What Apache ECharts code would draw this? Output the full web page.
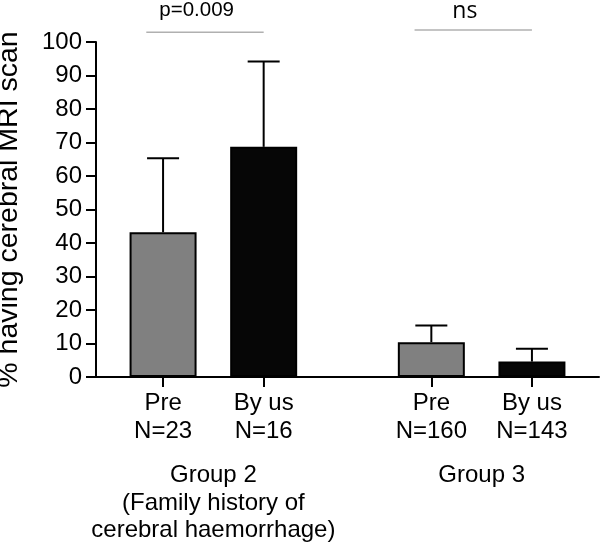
<!DOCTYPE html>
<html><head><meta charset="utf-8">
<script src="https://cdn.jsdelivr.net/npm/echarts@6/dist/echarts.min.js"></script>
<style>html,body{margin:0;padding:0;background:#fff}#c{width:600px;height:547px}</style>
</head><body><div id="c"></div>
<script>
// ---- data ----
const groupLabels = ['Group 2\n(Family history of\ncerebral haemorrhage)', 'Group 3'];
const barNames = ['Pre', 'By us', 'Pre', 'By us'];
const nLabels = ['N=23', 'N=16', 'N=160', 'N=143'];
const preMeans = [43.2, 10.4];
const preSD = [22.1, 5.0];
const byUsMeans = [68.7, 4.6];
const byUsSD = [25.5, 3.8];
const yTicks = [0, 10, 20, 30, 40, 50, 60, 70, 80, 90, 100];
const comparisons = ['p=0.009', 'ns'];

// ---- layout (slot positions on a fine category axis) ----
const NSLOTS = 31;
const barSlots = [4, 10, 20, 26];
const groupSlots = [7, 23];
const bracketSlots = [[3, 10], [19, 26]];
const bracketY = [102.9, 103.6];
const bracketTextSlot = [6.0, 22.0];
const bracketTextY = [109.5, 109.0];

const slots = Array.from({length: NSLOTS}, (_, i) => String(i));
const tickLabelMap = {};
barSlots.forEach((s, i) => tickLabelMap[s] = barNames[i] + '\n' + nLabels[i]);
const groupLabelMap = {};
groupSlots.forEach((s, i) => groupLabelMap[s] = groupLabels[i]);

const preData = slots.map(() => null);
const byUsData = slots.map(() => null);
preMeans.forEach((v, g) => preData[barSlots[g * 2]] = v);
byUsMeans.forEach((v, g) => byUsData[barSlots[g * 2 + 1]] = v);

const errData = [];
preMeans.forEach((v, g) => errData.push([barSlots[g * 2], v, v + preSD[g]]));
byUsMeans.forEach((v, g) => errData.push([barSlots[g * 2 + 1], v, v + byUsSD[g]]));

const bracketData = comparisons.map((t, i) => [bracketSlots[i][0], bracketSlots[i][1], bracketY[i], bracketTextSlot[i], bracketTextY[i], i]);

const FONT = '"Liberation Sans", Arial, sans-serif';
const chart = echarts.init(document.getElementById('c'), null, {renderer: 'canvas'});
chart.setOption({
  animation: false,
  grid: {left: 96, right: 1, top: 42, bottom: 170, containLabel: false, outerBoundsMode: 'none'},
  xAxis: [{
    type: 'category', data: slots, boundaryGap: false,
    axisLine: {lineStyle: {color: '#000', width: 2}},
    axisTick: {length: 10, lineStyle: {color: '#000', width: 2},
      interval: (i) => tickLabelMap[i] !== undefined},
    axisLabel: {interval: (i) => tickLabelMap[i] !== undefined,
      formatter: (v, i) => tickLabelMap[i] || '',
      color: '#000', fontFamily: FONT, fontSize: 24, lineHeight: 28.5, margin: 12},
    splitLine: {show: false}
  }, {
    type: 'category', data: slots, boundaryGap: false, position: 'bottom',
    axisLine: {show: false}, axisTick: {show: false},
    axisLabel: {interval: (i) => groupLabelMap[i] !== undefined,
      formatter: (v, i) => groupLabelMap[i] || '',
      color: '#000', fontFamily: FONT, fontSize: 24, lineHeight: 27.5, margin: 85}
  }],
  yAxis: {
    type: 'value', min: 0, max: 100, interval: 10,
    name: '% having cerebral MRI scan', nameLocation: 'middle', nameGap: 72,
    nameTextStyle: {color: '#000', fontFamily: FONT, fontSize: 28.5},
    axisLine: {show: true, lineStyle: {color: '#000', width: 2}},
    axisTick: {show: true, length: 10, lineStyle: {color: '#000', width: 2}},
    axisLabel: {color: '#000', fontFamily: FONT, fontSize: 24, margin: 14,
      formatter: (v) => yTicks.includes(v) ? String(v) : ''},
    splitLine: {show: false}
  },
  series: [{
    name: 'Pre', type: 'bar', data: preData, barWidth: 67, barGap: '-100%',
    itemStyle: {color: '#808080', borderColor: '#000', borderWidth: 2}
  }, {
    name: 'By us', type: 'bar', data: byUsData, barWidth: 67, barGap: '-100%',
    itemStyle: {color: '#060606', borderColor: '#000', borderWidth: 2}
  }, {
    type: 'custom', data: errData, z: 1,
    renderItem: (params, api) => {
      const base = api.coord([api.value(0), api.value(1)]);
      const top = api.coord([api.value(0), api.value(2)]);
      const st = {stroke: '#000', lineWidth: 2};
      return {type: 'group', children: [
        {type: 'line', shape: {x1: base[0], y1: base[1], x2: top[0], y2: top[1]}, style: st},
        {type: 'line', shape: {x1: top[0] - 16, y1: top[1], x2: top[0] + 16, y2: top[1]}, style: st}
      ]};
    }
  }, {
    type: 'custom', data: bracketData, clip: false,
    renderItem: (params, api) => {
      const a = api.coord([api.value(0), api.value(2)]);
      const b = api.coord([api.value(1), api.value(2)]);
      const t = api.coord([api.value(3), api.value(4)]);
      const idx = api.value(5);
      const isNs = comparisons[idx] === 'ns';
      return {type: 'group', children: [
        {type: 'line', shape: {x1: a[0], y1: a[1], x2: b[0], y2: b[1]}, style: {stroke: '#b0b0b0', lineWidth: 1.5}},
        {type: 'text', x: t[0], y: t[1], style: {text: comparisons[idx], fill: '#000',
          font: (isNs ? '23px "Open Sans"' : '20.5px "Liberation Sans"'), align: 'center', verticalAlign: 'middle'}}
      ]};
    }
  }]
});
</script></body></html>
